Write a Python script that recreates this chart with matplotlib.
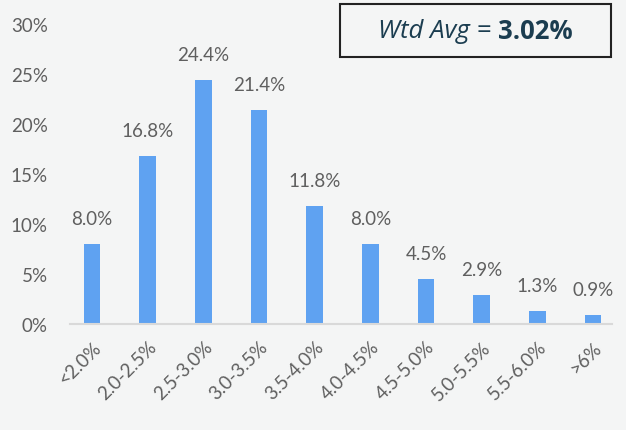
import matplotlib.pyplot as plt
from matplotlib.ticker import FuncFormatter

plt.rcParams['font.family'] = ['Lato', 'DejaVu Sans']

# データ
categories = ['<2.0%', '2.0-2.5%', '2.5-3.0%', '3.0-3.5%', '3.5-4.0%',
              '4.0-4.5%', '4.5-5.0%', '5.0-5.5%', '5.5-6.0%', '>6%']
shares = [8.0, 16.8, 24.4, 21.4, 11.8, 8.0, 4.5, 2.9, 1.3, 0.9]
wtd_avg = 3.02

bg = '#f4f5f5'
bar_color = '#5fa2f1'
text_grey = '#5f5f5f'

fig = plt.figure(figsize=(6.26, 4.31), dpi=100, facecolor=bg)
ax = fig.add_axes([0.112, 0.246, 0.865, 0.696], facecolor=bg)

x = range(len(categories))
bars = ax.bar(x, shares, width=0.3, color=bar_color)

# 棒の上のラベル
for xi, v in zip(x, shares):
    ax.annotate(f'{v:.1f}%', (xi, v), xytext=(0, 12), textcoords='offset points',
                ha='center', va='bottom', fontsize=13.5, color=text_grey)

ax.set_ylim(0, 30)
ax.set_xlim(-0.395, 9.334)
ax.set_yticks(range(0, 31, 5))
ax.yaxis.set_major_formatter(FuncFormatter(lambda v, p: f'{v:.0f}%'))
ax.set_xticks(list(x))
ax.set_xticklabels(categories, rotation=45, ha='right', rotation_mode='anchor')

ax.tick_params(axis='both', length=0, colors=text_grey, labelsize=13.5)
ax.tick_params(axis='x', pad=10)
ax.tick_params(axis='y', pad=16)

for s in ['top', 'right', 'left']:
    ax.spines[s].set_visible(False)
ax.spines['bottom'].set_color('#d9d9d9')
ax.spines['bottom'].set_linewidth(1.5)

# 加重平均ボックス
fig.patches.append(plt.Rectangle((0.543, 0.866), 0.433, 0.122, transform=fig.transFigure,
                                 facecolor=bg, edgecolor='#222222', linewidth=1.5))
fam = ['Open Sans', 'DejaVu Sans']
t1 = fig.text(0, 0.926, 'Wtd Avg = ', fontsize=18.5, style='italic', color='#1b3d50',
              family=fam, va='center', ha='left')
t2 = fig.text(0, 0.926, f'{wtd_avg:.2f}%', fontsize=18.5, weight='bold',
              color='#1b3d50', family=fam, va='center', ha='left')
fig.canvas.draw()
w1 = t1.get_window_extent().width / fig.bbox.width
w2 = t2.get_window_extent().width / fig.bbox.width
x0 = 0.543 + 0.433 / 2 - (w1 + w2) / 2
t1.set_x(x0)
t2.set_x(x0 + w1)

plt.savefig('out.png', dpi=100, facecolor=bg)
